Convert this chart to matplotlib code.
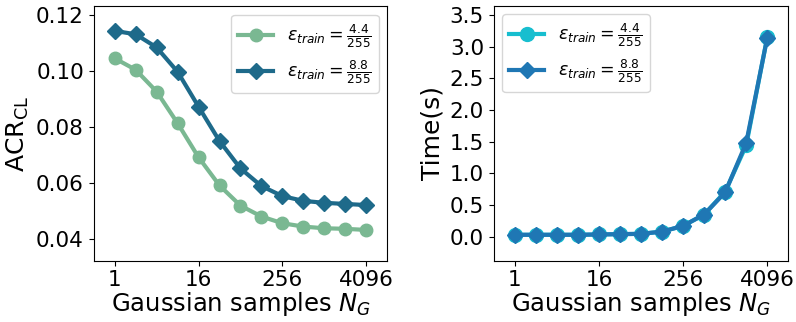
import numpy as np
import matplotlib
matplotlib.use("Agg")
import matplotlib.pyplot as plt
from matplotlib.ticker import NullLocator

# Gaussian samples N_G
n_g = [1, 2, 4, 8, 16, 32, 64, 128, 256, 512, 1024, 2048, 4096]

# ACR_CL for the two training budgets
acr_44 = [0.1045, 0.1004, 0.0926, 0.0813, 0.0691, 0.0590, 0.0518,
          0.0479, 0.0455, 0.0443, 0.0437, 0.0435, 0.0431]
acr_88 = [0.1143, 0.1131, 0.1084, 0.0997, 0.0872, 0.0749, 0.0651,
          0.0588, 0.0552, 0.0535, 0.0528, 0.0524, 0.0520]

# certification time (s)
time_44 = [0.03, 0.03, 0.03, 0.03, 0.035, 0.04, 0.045,
           0.08, 0.17, 0.35, 0.71, 1.44, 3.15]
time_88 = [0.03, 0.03, 0.03, 0.03, 0.035, 0.04, 0.045,
           0.08, 0.17, 0.35, 0.70, 1.48, 3.14]

labels = [r'$\epsilon_{train}=\frac{4.4}{255}$', r'$\epsilon_{train}=\frac{8.8}{255}$']
xticks = [1, 16, 256, 4096]

fig = plt.figure(figsize=(7.96, 3.22), dpi=100)
ax1 = fig.add_axes([0.1177, 0.1904, 0.3688, 0.790])
ax2 = fig.add_axes([0.6202, 0.1904, 0.3701, 0.7919])

# left: ACR
ax1.plot(n_g, acr_44, '-o', color='#7ab892', lw=3, ms=9, label=labels[0])
ax1.plot(n_g, acr_88, '-D', color='#1e6a8a', lw=3, ms=8, label=labels[1])
ax1.set_ylim(0.0321, 0.1231)
ax1.set_yticks([0.04, 0.06, 0.08, 0.10, 0.12])
ax1.set_ylabel(r'ACR$_{\mathrm{CL}}$', fontsize=18)
ax1.legend(loc='upper right', fontsize=12.5)

# right: time
ax2.plot(n_g, time_44, '-o', color='#17becf', lw=3, ms=10, label=labels[0])
ax2.plot(n_g, time_88, '-D', color='#1f77b4', lw=3, ms=8, label=labels[1])
ax2.set_ylim(-0.379, 3.647)
ax2.set_yticks(np.arange(0, 3.6, 0.5))
ax2.set_ylabel('Time(s)', fontsize=18)
ax2.legend(loc='upper left', fontsize=12.5)

for ax in (ax1, ax2):
    ax.set_xscale('log', base=2)
    ax.set_xlim(0.5, 8192)
    ax.set_xticks(xticks)
    ax.set_xticklabels([str(v) for v in xticks])
    ax.xaxis.set_minor_locator(NullLocator())
    ax.set_xlabel(r'Gaussian samples $N_G$', fontsize=17.5, labelpad=0)
    ax.tick_params(labelsize=15.5)

fig.savefig('out.png', dpi=100)
